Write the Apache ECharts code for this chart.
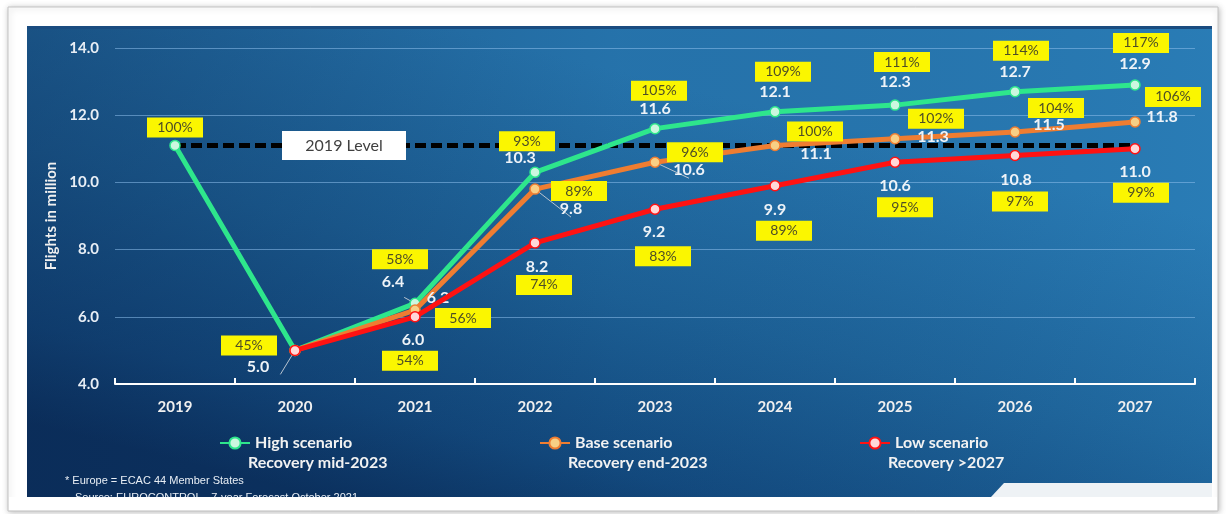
<!DOCTYPE html>
<html>
<head>
<meta charset="utf-8">
<script src="https://cdn.jsdelivr.net/npm/echarts@6/dist/echarts.min.js"></script>
<style>html,body{margin:0;padding:0;background:#fff;}#main{width:1227px;height:514px;}</style>
</head>
<body>
<div id="main"></div>
<script>
// ---- data ----
const years = ['2019', '2020', '2021', '2022', '2023', '2024', '2025', '2026', '2027'];
const highValues = [11.1, 5.0, 6.4, 10.3, 11.6, 12.1, 12.3, 12.7, 12.9];
const baseValues = [null, 5.0, 6.2, 9.8, 10.6, 11.1, 11.3, 11.5, 11.8];
const lowValues = [null, 5.0, 6.0, 8.2, 9.2, 9.9, 10.6, 10.8, 11.0];
const highPct = ['100%', '45%', '58%', '93%', '105%', '109%', '111%', '114%', '117%'];
const basePct = [null, null, '56%', '89%', '96%', '100%', '102%', '104%', '106%'];
const lowPct = [null, null, '54%', '74%', '83%', '89%', '95%', '97%', '99%'];
const level2019 = 11.1;
const levelText = '2019 Level';
const seriesNames = ['High scenario', 'Base scenario', 'Low scenario'];
const recoveryNotes = ['Recovery mid-2023', 'Recovery end-2023', 'Recovery >2027'];
const yMin = 4, yMax = 14, yInterval = 2;
const yAxisName = 'Flights in million';
const footnote1 = '* Europe = ECAC 44 Member States';
const footnote2 = 'Source: EUROCONTROL - 7-year Forecast October 2021';

// ---- layout (label offsets, px) ----
const highValOff = [null, [-37, 16], [-22, -22], [-15, -14], [0, -20], [0, -20], [0, -23], [0, -20], [0, -21]];
const highPctOff = [[0, -18], [-46, -5], [-15, -44], [-8, -31], [4, -38], [8, -40], [7, -43], [6, -41], [6, -42]];
const baseValOff = [null, null, [23, -12], [36, 20], [34, 8], [41, 8], [38, -2], [34, -7], [27, -5]];
const basePctOff = [null, null, [48, 8], [44, 2], [40, -10], [40, -14], [41, -20], [41, -24], [38, -25]];
const lowValOff = [null, null, [-2, 23], [2, 24], [-1, 23], [0, 24], [0, 24], [1, 24], [0, 23]];
const lowPctOff = [null, null, [-5, 44], [9, 42], [8, 47], [9, 45], [10, 45], [5, 46], [6, 44]];
const leaderIdx = { high: [1, 2], base: [3, 4], low: [] };

const FONT = 'Lato';
const colors = { high: '#2ee68c', base: '#ef7d31', low: '#ff1212' };
const fills = { high: '#cbf7df', base: '#f8cf85', low: '#ffd8d8' };

function valueData(values, offs, leaders) {
  return values.map((v, i) => {
    if (v === null) return '-';
    const o = offs[i];
    const item = { value: v };
    if (!o) {
      item.label = { show: false };
    } else {
      item.label = { show: true, offset: o };
      if (leaders.indexOf(i) >= 0) {
        item.labelLine = { show: true, lineStyle: { color: '#b8c4d0', width: 1 } };
      }
    }
    return item;
  });
}
function pctData(values, pcts, offs) {
  return values.map((v, i) => {
    if (v === null || !pcts[i]) return '-';
    return { value: v, label: { show: true, offset: offs[i], formatter: pcts[i] } };
  });
}
function lineSeries(key, name, values, offs, leaders, z) {
  return {
    name: name, type: 'line', z: z,
    data: valueData(values, offs, leaders),
    symbol: 'circle', symbolSize: 10,
    lineStyle: { color: colors[key], width: 5 },
    itemStyle: { color: fills[key], borderColor: colors[key], borderWidth: 1.5 },
    label: {
      position: 'inside', color: '#eef3f8', fontFamily: FONT, fontWeight: 'bold', fontSize: 16,
      formatter: p => Number(p.value).toFixed(1)
    },
    emphasis: { disabled: true }
  };
}
function pctSeries(values, pcts, offs) {
  return {
    type: 'scatter', z: 10, symbolSize: 1,
    data: pctData(values, pcts, offs),
    itemStyle: { color: 'rgba(0,0,0,0)', opacity: 1 },
    label: {
      position: 'inside', backgroundColor: '#fbf600', color: '#4e4e26',
      fontFamily: FONT, fontSize: 14, width: 52, align: 'center', padding: [3, 2, 2, 2],
      lineHeight: 15
    },
    emphasis: { disabled: true }, silent: true
  };
}

const chart = echarts.init(document.getElementById('main'), null, { renderer: 'canvas' });

const legendText = { color: '#f2f2f2', fontFamily: FONT, fontWeight: 'bold', fontSize: 16 };
const legendLefts = [214, 534, 854];

const option = {
  animation: false,
  backgroundColor: '#ffffff',
  grid: { left: 115, right: 32, top: 48, bottom: 130 },
  xAxis: {
    type: 'category', data: years, boundaryGap: true,
    axisLine: { lineStyle: { color: '#ffffff', width: 2 } },
    axisTick: { show: true, inside: true, length: 6, lineStyle: { color: '#ffffff', width: 2 } },
    axisLabel: { color: '#f0f0f0', fontFamily: FONT, fontWeight: 'bold', fontSize: 15, margin: 16 },
    splitLine: { show: false }
  },
  yAxis: {
    type: 'value', min: yMin, max: yMax, interval: yInterval,
    name: yAxisName, nameLocation: 'middle', nameGap: 48,
    nameTextStyle: { color: '#f0f0f0', fontFamily: FONT, fontWeight: 'bold', fontSize: 15 },
    axisLine: { show: false }, axisTick: { show: false },
    axisLabel: { color: '#e8eef5', fontFamily: FONT, fontWeight: 'bold', fontSize: 15, margin: 16,
      formatter: v => v.toFixed(1) },
    splitLine: { lineStyle: { color: 'rgba(140,190,235,0.55)', width: 1 } }
  },
  legend: seriesNames.map((n, i) => ({
    data: [n], left: legendLefts[i], top: 430, itemWidth: 30, itemHeight: 14,
    textStyle: legendText, selectedMode: false
  })),
  graphic: [
    { type: 'rect', z: -5, shape: { x: 8, y: 7, width: 1210, height: 504 },
      style: { fill: '#ffffff', stroke: '#c4c4c4', lineWidth: 1, shadowBlur: 6, shadowColor: 'rgba(0,0,0,0.25)', shadowOffsetX: 1, shadowOffsetY: 1 } },
    { type: 'rect', z: -4, shape: { x: 27, y: 26, width: 1185, height: 471 },
      style: { fill: new echarts.graphic.LinearGradient(0.35, 0, 0.25, 1, [
        { offset: 0, color: '#2777b0' }, { offset: 0.45, color: '#1d6298' },
        { offset: 0.8, color: '#134b80' }, { offset: 1, color: '#0c3564' }]) } },
    { type: 'rect', z: -3, shape: { x: 27, y: 26, width: 1185, height: 471 },
      style: { fill: new echarts.graphic.LinearGradient(0, 0, 1, 0, [
        { offset: 0, color: 'rgba(8,30,70,0.35)' }, { offset: 0.5, color: 'rgba(8,30,70,0.05)' },
        { offset: 1, color: 'rgba(60,160,220,0.12)' }]) } },
    { type: 'rect', z: -3, shape: { x: 27, y: 26, width: 1185, height: 3 }, style: { fill: '#1a4c80' } },
    { type: 'polygon', z: -3, shape: { points: [[991, 497], [1004, 483], [1212, 483], [1212, 497]] },
      style: { fill: '#eef2f5' } },
    ...recoveryNotes.map((t, i) => ({
      type: 'text', z: 5, left: legendLefts[i] + 34, top: 455,
      style: { text: t, fill: '#f2f2f2', font: 'bold 16px ' + FONT }
    })),
    { type: 'text', z: 5, left: 65, top: 475, style: { text: footnote1, fill: '#e8eef5', font: '11px "Liberation Sans"' } },
    { type: 'text', z: 5, left: 75, top: 492, style: { text: footnote2, fill: '#e8eef5', font: '11px "Liberation Sans"' } },
    { type: 'rect', z: 6, shape: { x: 9, y: 497, width: 1208, height: 13 }, style: { fill: '#ffffff' } }
  ],
  series: [
    {
      name: 'ref', type: 'line', z: 2,
      data: years.map((y, i) => i === 1 ? { value: level2019, label: { show: true } } : level2019),
      symbol: 'circle', symbolSize: 1, showSymbol: true,
      itemStyle: { color: 'rgba(0,0,0,0)', opacity: 1 },
      lineStyle: { color: '#000000', width: 5, type: [11, 5], cap: 'butt' },
      label: {
        show: false, position: 'inside', offset: [49, 0], formatter: levelText,
        backgroundColor: '#ffffff', color: '#404040', fontFamily: FONT, fontSize: 16,
        width: 124, align: 'center', padding: [7, 0, 6, 0]
      },
      emphasis: { disabled: true }, silent: true
    },
    lineSeries('high', seriesNames[0], highValues, highValOff, leaderIdx.high, 3),
    lineSeries('base', seriesNames[1], baseValues, baseValOff, leaderIdx.base, 4),
    lineSeries('low', seriesNames[2], lowValues, lowValOff, leaderIdx.low, 5),
    pctSeries(highValues, highPct, highPctOff),
    pctSeries(baseValues, basePct, basePctOff),
    pctSeries(lowValues, lowPct, lowPctOff)
  ]
};
chart.setOption(option);
</script>
</body>
</html>
